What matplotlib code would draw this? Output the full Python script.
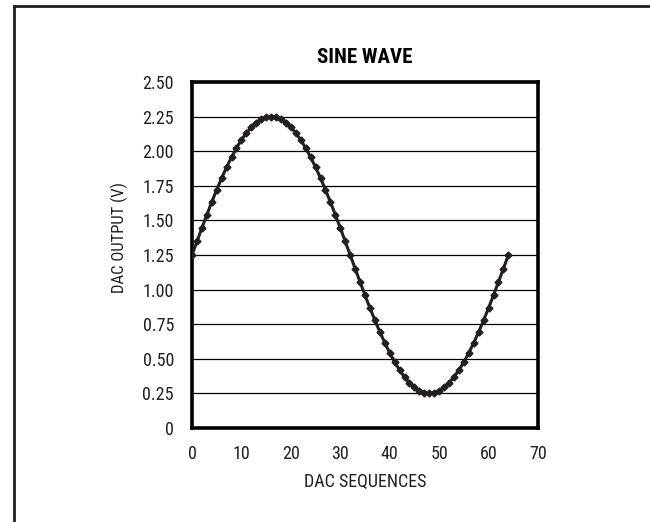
import matplotlib.pyplot as plt
from matplotlib.lines import Line2D
import numpy as np

# DAC sequence index and output voltage
seq = list(range(65))
volts = [1.250, 1.348, 1.445, 1.540, 1.633, 1.721, 1.806, 1.884, 1.957, 2.023,
         2.082, 2.132, 2.174, 2.207, 2.231, 2.245, 2.250, 2.245, 2.231, 2.207,
         2.174, 2.132, 2.082, 2.023, 1.957, 1.884, 1.806, 1.721, 1.633, 1.540,
         1.445, 1.348, 1.250, 1.152, 1.055, 0.960, 0.867, 0.779, 0.694, 0.616,
         0.543, 0.477, 0.418, 0.368, 0.326, 0.293, 0.269, 0.255, 0.250, 0.255,
         0.269, 0.293, 0.326, 0.368, 0.418, 0.477, 0.543, 0.616, 0.694, 0.779,
         0.867, 0.960, 1.055, 1.152, 1.250]
xticks = [0, 10, 20, 30, 40, 50, 60, 70]
yticks = [0, 0.25, 0.5, 0.75, 1.0, 1.25, 1.5, 1.75, 2.0, 2.25, 2.5]
ytick_labels = ['0', '0.25', '0.50', '0.75', '1.00', '1.25', '1.50', '1.75',
                '2.00', '2.25', '2.50']

plt.rcParams['font.family'] = ['Roboto Condensed', 'DejaVu Sans']

ink = '#231f20'
fig = plt.figure(figsize=(6.5, 5.22), dpi=100)

# outer frame: only its top and left edges show in the picture
bx, by = 14 / 650, 1 - 6 / 522
fig.add_artist(Line2D([bx, 1.0], [by, by], color=ink, linewidth=2.0,
                      transform=fig.transFigure))
fig.add_artist(Line2D([bx, bx], [0.0, by], color=ink, linewidth=2.0,
                      transform=fig.transFigure))

ax = fig.add_axes([192 / 650, 1 - 428 / 522, 346 / 650, 346 / 522])
ax.plot(seq, volts, color=ink, linewidth=2.2, marker='D', markersize=3.5,
        markerfacecolor=ink, markeredgecolor=ink, zorder=3)

ax.set_xlim(0, 70)
ax.set_ylim(0, 2.5)
ax.set_xticks(xticks)
ax.set_yticks(yticks)
ax.set_yticklabels(ytick_labels)
ax.tick_params(length=0, labelsize=13, colors=ink)
ax.tick_params(axis='y', pad=13)
ax.tick_params(axis='x', pad=12)
ax.yaxis.grid(True, color='black', linewidth=0.9)
ax.set_axisbelow(True)
for s in ax.spines.values():
    s.set_linewidth(2.6)
    s.set_color('black')

ax.set_title('SINE WAVE', fontsize=15, fontweight='heavy', color='black', pad=14)
ax.set_xlabel('DAC SEQUENCES', fontsize=13, color=ink)
ax.set_ylabel('DAC OUTPUT (V)', fontsize=12, color=ink)
ax.xaxis.set_label_coords(0.5, -0.13)
ax.yaxis.set_label_coords(-0.185, 0.552)

fig.savefig('out.png', dpi=100, facecolor='white')
